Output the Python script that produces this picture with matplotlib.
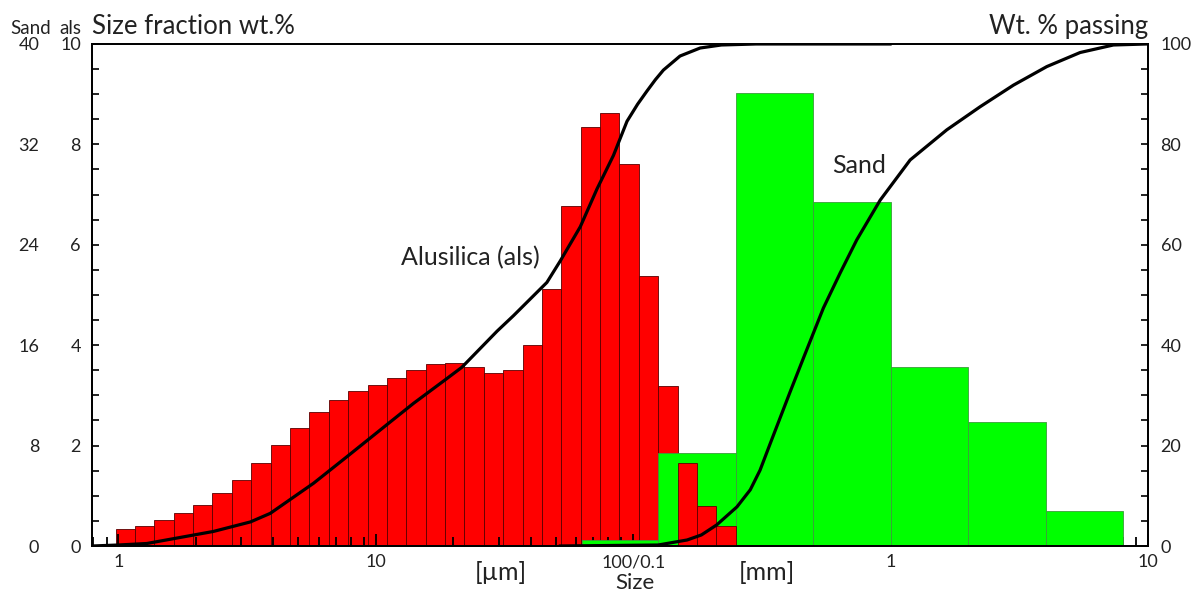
import numpy as np
import matplotlib.pyplot as plt
from matplotlib.ticker import FixedLocator, MultipleLocator, LogLocator, NullFormatter

plt.rcParams['font.family'] = ['Lato', 'DejaVu Sans']

# als size classes (µm) and size fraction wt.% (left inner scale)
als_edges = [0.977, 1.16, 1.38, 1.64, 1.95, 2.32, 2.76, 3.28, 3.91, 4.65, 5.52,
             6.57, 7.81, 9.29, 11.05, 13.14, 15.63, 18.58, 22.1, 26.28, 31.25,
             37.16, 44.19, 52.56, 62.5, 74.33, 88.39, 105.1, 125, 148.7, 176.8,
             210.2, 250]
als_wt = [0.33, 0.40, 0.52, 0.66, 0.82, 1.05, 1.32, 1.65, 2.01, 2.36, 2.67,
          2.91, 3.09, 3.21, 3.35, 3.51, 3.63, 3.65, 3.56, 3.45, 3.51, 4.01,
          5.12, 6.77, 8.34, 8.63, 7.61, 5.38, 3.19, 1.65, 0.80, 0.40]

# sand sieve classes (µm) and size fraction wt.% (left outer scale)
sand_edges = [63, 125, 250, 500, 1000, 2000, 4000, 8000]
sand_wt = [0.45, 7.4, 36.1, 27.4, 14.3, 9.9, 2.76]

# cumulative wt.% passing
als_cum_size = [0.79, 1.0, 1.29, 2.34, 3.26, 3.89, 5.73, 7.73, 10.4, 14.0, 18.6,
                21.6, 29.6, 34.3, 46.2, 52.1, 62.3, 72.3, 83.8, 94.6, 104, 113,
                122, 131, 152, 182, 220, 300, 995]
als_cum_pct = [0, 0.2, 0.5, 2.9, 4.8, 6.5, 12.5, 17.8, 23.1, 28.4, 33.1,
               35.6, 42.8, 45.9, 52.5, 56.8, 63.6, 71.1, 77.8, 84.6, 88.0, 90.6,
               92.9, 94.8, 97.6, 99.2, 99.8, 100, 100]
sand_cum_size = [52.1, 125, 162, 184, 211, 253, 285, 311, 340, 372, 407, 459,
                 548, 637, 739, 911, 1191, 1653, 2227, 3000, 4044, 5447, 7335,
                 9887]
sand_cum_pct = [0, 0.2, 1.2, 2.2, 4.2, 7.8, 11.2, 15.1, 20.3, 25.5, 30.7, 37.5,
                47.4, 54.4, 61.0, 68.9, 76.9, 82.9, 87.5, 91.8, 95.5, 98.3, 99.8,
                100]

x_ticks = [1, 10, 100, 1000, 10000]
x_labels = ['1', '10', '100/0.1', '1', '10']

txt = '#222222'

fig = plt.figure(figsize=(11.95, 5.92), dpi=100)
ax = fig.add_axes([0.077, 0.0777, 0.8837, 0.848])
ax.set_xscale('log')
ax.set_xlim(0.79, 10000)
ax.set_ylim(0, 10)

widths = np.diff(als_edges)
n_under = 29  # red bars below the sand bars, the rest on top
ax.bar(als_edges[:n_under], als_wt[:n_under], width=widths[:n_under], align='edge',
       color='#ff0000', edgecolor='#5a0000', linewidth=0.6, zorder=1)
ax.bar(sand_edges[:-1], np.array(sand_wt) / 4, width=np.diff(sand_edges), align='edge',
       color='#00ff00', edgecolor='#3c9c3c', linewidth=0.6, zorder=2)
ax.bar(als_edges[n_under:-1], als_wt[n_under:], width=widths[n_under:], align='edge',
       color='#ff0000', edgecolor='#5a0000', linewidth=0.6, zorder=3)

ax.xaxis.set_major_locator(FixedLocator(x_ticks))
ax.set_xticklabels(x_labels)
ax.xaxis.set_minor_locator(LogLocator(subs=range(2, 10), numticks=20))
ax.xaxis.set_minor_formatter(NullFormatter())
ax.yaxis.set_major_locator(MultipleLocator(2))
ax.yaxis.set_minor_locator(MultipleLocator(0.5))
ax.tick_params(axis='x', which='major', direction='in', length=9, width=1.3,
               pad=6, labelsize=13, colors='black', labelcolor=txt)
ax.tick_params(axis='x', which='minor', direction='in', length=6.5, width=1.3)
ax.tick_params(axis='y', which='both', direction='in', length=5, width=1.2,
               labelsize=13, pad=8, labelcolor=txt)
ax.tick_params(which='both', top=False, right=False)
for s in ax.spines.values():
    s.set_linewidth(1.3)

# outer left scale for sand
axs = ax.twinx()
axs.set_ylim(0, 40)
axs.yaxis.tick_left()
axs.set_yticks(range(0, 41, 8))
axs.tick_params(axis='y', length=0, pad=38, labelsize=13, labelcolor=txt)
for s in axs.spines.values():
    s.set_visible(False)

# cumulative curves
axp = ax.twinx()
axp.set_ylim(0, 100)
axp.plot(als_cum_size, als_cum_pct, color='black', lw=2.3, solid_joinstyle='round')
axp.plot(sand_cum_size, sand_cum_pct, color='black', lw=2.3, solid_joinstyle='round')
axp.yaxis.set_major_locator(MultipleLocator(20))
axp.yaxis.set_minor_locator(MultipleLocator(5))
axp.tick_params(axis='y', which='both', direction='in', length=5, width=1.2,
                labelsize=13, pad=9, labelcolor=txt)
for s in axp.spines.values():
    s.set_linewidth(1.3)

axp.text(0.293, 0.575, 'Alusilica (als)', transform=ax.transAxes, fontsize=18,
         color=txt, va='center')
axp.text(0.701, 0.758, 'Sand', transform=ax.transAxes, fontsize=18,
         color=txt, va='center')

fig.text(92 / 1195, 1 - 34 / 592, 'Size fraction wt.%', fontsize=18.5, color=txt,
         va='baseline', ha='left')
fig.text(1148 / 1195, 1 - 34 / 592, 'Wt. % passing', fontsize=18.5, color=txt,
         va='baseline', ha='right')
fig.text(10 / 1195, 1 - 34 / 592, 'Sand', fontsize=13.5, color=txt, va='baseline')
fig.text(81 / 1195, 1 - 34 / 592, 'als', fontsize=13.5, color=txt, va='baseline', ha='right')
fig.text(501 / 1195, 1 - 572 / 592, '[µm]', fontsize=18, color=txt, ha='center', va='center')
fig.text(767 / 1195, 1 - 572 / 592, '[mm]', fontsize=18, color=txt, ha='center', va='center')
fig.text(635 / 1195, 1 - 589 / 592, 'Size', fontsize=16, color=txt, ha='center', va='baseline')

fig.savefig('out.png', dpi=100)
